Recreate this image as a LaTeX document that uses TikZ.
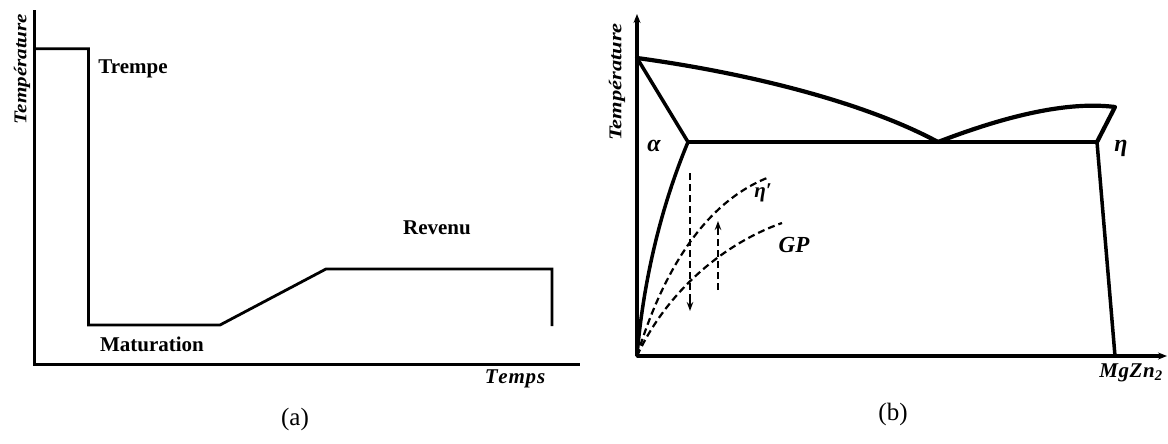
\documentclass[tikz,border=0pt]{standalone}
\usepackage{fontspec}
\setmainfont{Liberation Serif}
\usetikzlibrary{arrows.meta}
\tikzset{
  axis/.style={line width=3pt, line cap=rect},
  prof/.style={line width=2.8pt, line join=miter},
  phase/.style={line width=4.2pt, line join=round, line cap=round},
  solv/.style={line width=3.5pt, line join=round, line cap=round},
  dsh/.style={line width=2.2pt, dash pattern=on 7pt off 4pt},
  lbl/.style={inner sep=0pt, font=\fontsize{21}{23}\selectfont\bfseries},
  axlbl/.style={inner sep=0pt, font=\fontsize{18}{20}\selectfont\bfseries\itshape},
  greek/.style={inner sep=0pt, font=\fontsize{24}{26}\selectfont\bfseries\itshape},
  captxt/.style={inner sep=0pt, font=\fontsize{25}{27}\selectfont},
  tipst/.style={-{Stealth[length=9pt,width=7pt]}},
  dtip/.style={-{Stealth[length=9pt,width=6.5pt]}}
}
\begin{document}
\begin{tikzpicture}[x=1pt,y=-1pt]
\useasboundingbox (0,0) rectangle (1168,444);
% ---------------- panel (a) ----------------
\coordinate (aY) at (34.6,12);
\coordinate (aO) at (34.6,364);
\coordinate (aX) at (578,364);
\draw[axis] (aY) -- (aO) -- (aX);
\coordinate (p0) at (34.6,48.7);
\coordinate (p1) at (88.5,48.7);
\coordinate (p2) at (88.5,325);
\coordinate (p3) at (220,325);
\coordinate (p4) at (326,269);
\coordinate (p5) at (552,269);
\coordinate (p6) at (552,326);
\draw[prof] (p0) -- (p1) -- (p2) -- (p3) -- (p4) -- (p5) -- (p6);
\node[lbl] (trempe) at (133,69) {Trempe};
\node[lbl] (matur) at (152,344) {Maturation};
\node[lbl] (revenu) at (437,228) {Revenu};
\node[axlbl, font=\fontsize{21}{23}\selectfont\bfseries\itshape] (temps) at (515,379) {T\kern0.8pt e\kern0.8pt m\kern0.8pt p\kern0.8pt s};
\node[axlbl, rotate=90, xscale=1.17] (tempA) at (22,69) {Température};
\node[captxt] (capa) at (295,419) {(a)};
% ---------------- panel (b) ----------------
\coordinate (bO) at (637,356);
\coordinate (bY) at (637,14);
\coordinate (bX) at (1167,356);
\draw[line width=3.6pt, tipst] (bO) -- (bY);
\draw[line width=3.6pt, tipst] (bO) -- (bX);
\coordinate (melt) at (637,58);
\coordinate (aC) at (688,142);
\coordinate (eut) at (938,142);
\coordinate (eR) at (1097,142);
\coordinate (eTop) at (1115,107);
\coordinate (eBot) at (1115,356);
\draw[phase] (melt) .. controls (740,72) and (860,100) .. (eut);
\draw[phase] (eut) .. controls (990,122) and (1060,100) .. (eTop) -- (eR);
\draw[solv] (melt) -- (aC);
\draw[solv] (aC) -- (eR);
\draw[solv] (aC) .. controls (670,185) and (645,260) .. (bO);
\draw[solv] (eR) -- (eBot);
% dashed precipitation curves
\coordinate (etaEnd) at (767,178);
\coordinate (gpEnd) at (782,223);
\draw[dsh] (bO) .. controls (660,280) and (700,205) .. (etaEnd);
\draw[dsh] (bO) .. controls (665,295) and (720,245) .. (gpEnd);
\coordinate (dA) at (690,173);
\coordinate (dB) at (690,311);
\coordinate (uA) at (718,290);
\coordinate (uB) at (718,221);
\draw[dsh] (dA) -- ([yshift=9pt]dB);
\draw[dtip, solid, line width=1.6pt] ([yshift=10pt]dB) -- (dB);
\draw[dsh] (uA) -- ([yshift=-9pt]uB);
\draw[dtip, solid, line width=1.6pt] ([yshift=-10pt]uB) -- (uB);
% labels
\node[axlbl, rotate=90, xscale=1.25] (tempB) at (617,82) {Température};
\node[greek] (alpha) at (654,146) {α};
\node[greek] (eta) at (1121,148) {η};
\node[greek, font=\fontsize{21}{23}\selectfont\bfseries\itshape] (etap) at (763,193) {η′};
\node[axlbl, font=\fontsize{23}{25}\selectfont\bfseries\itshape] (gp) at (794,245) {GP};
\node[axlbl, font=\fontsize{21}{23}\selectfont\bfseries\itshape] (mgzn) at (1131,373) {M\kern0.6pt g\kern0.6pt Z\kern0.6pt n\textsubscript{2}};
\node[captxt] (capb) at (893,414) {(b)};
\end{tikzpicture}
\end{document}
